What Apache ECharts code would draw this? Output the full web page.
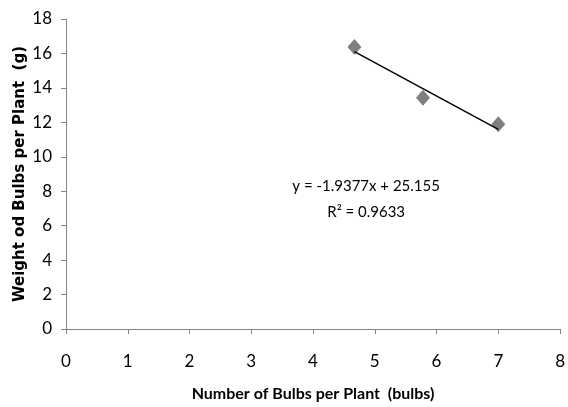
<!DOCTYPE html>
<html><head><meta charset="utf-8">
<script src="https://cdn.jsdelivr.net/npm/echarts@6/dist/echarts.min.js"></script>
<style>html,body{margin:0;padding:0;background:#fff}#c{width:568px;height:407px}</style>
</head><body><div id="c"></div>
<script>
const bulbsPerPlant = [4.67, 5.78, 7.0];
const weightPerPlant = [16.37, 13.43, 11.89];
const trendSlope = -1.9377;
const trendIntercept = 25.155;
const trendR2 = 0.9633;
const xTicks = [0, 1, 2, 3, 4, 5, 6, 7, 8];
const yTicks = [0, 2, 4, 6, 8, 10, 12, 14, 16, 18];

const pts = bulbsPerPlant.map((x, i) => [x, weightPerPlant[i]]);
const xMin = Math.min(...bulbsPerPlant), xMax = Math.max(...bulbsPerPlant);
const trend = [[xMin, trendSlope * xMin + trendIntercept], [xMax, trendSlope * xMax + trendIntercept]];

const FONT = 'Lato, "Open Sans", sans-serif';
const tickFont = { fontFamily: FONT, fontSize: 17, color: '#000' };
const chart = echarts.init(document.getElementById('c'));
chart.setOption({
  animation: false,
  grid: { left: 66, right: 5, top: 19, bottom: 76, containLabel: false },
  xAxis: {
    type: 'value', min: xTicks[0], max: xTicks[xTicks.length - 1], interval: 1,
    splitLine: { show: false },
    axisLine: { lineStyle: { color: '#868686', width: 1 } },
    axisTick: { show: true, length: 5, lineStyle: { color: '#868686' } },
    axisLabel: Object.assign({ margin: 24 }, tickFont),
    name: 'Number of Bulbs per Plant  (bulbs)', nameLocation: 'middle', nameGap: 57,
    nameMoveOverlap: false,
    nameTextStyle: { fontFamily: FONT, fontWeight: 'bold', fontSize: 16, color: '#000' }
  },
  yAxis: {
    type: 'value', min: yTicks[0], max: yTicks[yTicks.length - 1], interval: 2,
    splitLine: { show: false },
    axisLine: { show: true, lineStyle: { color: '#868686', width: 1 } },
    axisTick: { show: true, length: 5, lineStyle: { color: '#868686' } },
    axisLabel: Object.assign({ margin: 14 }, tickFont),
    name: 'Weight od Bulbs per Plant  (g)', nameLocation: 'middle', nameGap: 38,
    nameMoveOverlap: false,
    nameTextStyle: { fontFamily: 'DejaVu Sans, sans-serif', fontWeight: 'bold', fontSize: 15, color: '#000' }
  },
  series: [
    { type: 'line', data: trend, symbol: 'none', lineStyle: { color: '#000', width: 1.5 }, z: 3 },
    { type: 'scatter', data: pts, symbol: 'diamond', symbolSize: [14, 16], itemStyle: { color: '#5f5f5f' }, z: 2 }
  ]
});
const anchor = chart.convertToPixel({ gridIndex: 0 }, [4.86, 8.3]);
chart.setOption({
  graphic: [
    { type: 'text', x: anchor[0], y: anchor[1], style: { text: 'y = -1.9377x + 25.155', fontFamily: FONT, fontSize: 15, fill: '#000', align: 'center', verticalAlign: 'middle' } },
    { type: 'text', x: anchor[0], y: anchor[1] + 26, style: { text: 'R\u00b2 = ' + trendR2.toFixed(4), fontFamily: FONT, fontSize: 15, fill: '#000', align: 'center', verticalAlign: 'middle' } }
  ]
});
</script></body></html>
